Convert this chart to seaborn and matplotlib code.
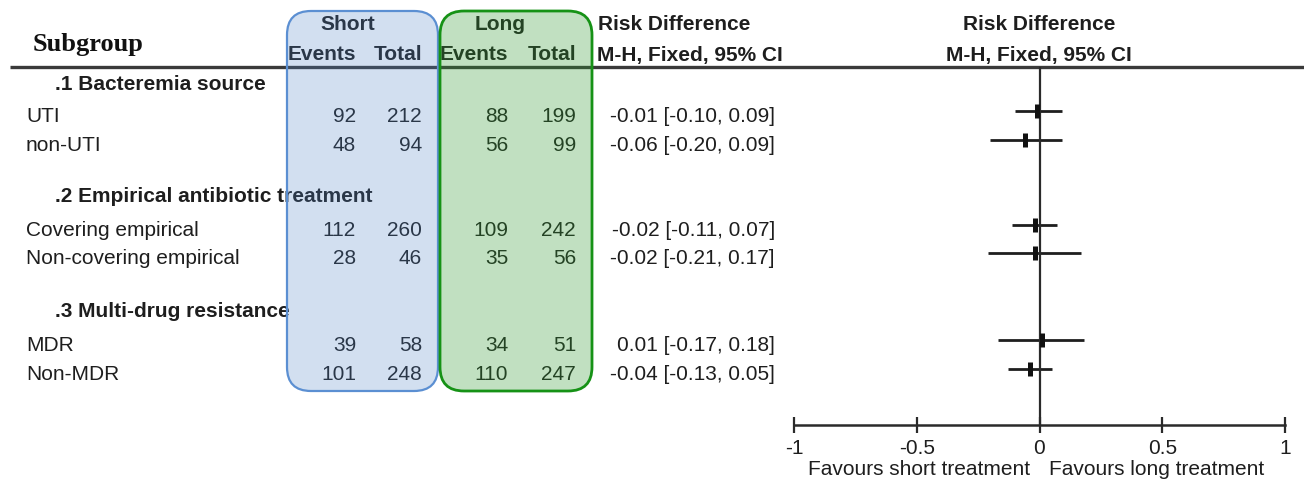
import matplotlib.pyplot as plt
import pandas as pd
import seaborn as sns
from matplotlib.patches import FancyBboxPatch

sns.set_theme(style="white")
plt.rcParams["font.family"] = ["Liberation Sans", "DejaVu Sans"]

# data
groups = [".1 Bacteremia source", ".2 Empirical antibiotic treatment", ".3 Multi-drug resistance"]
subgroups = ["UTI", "non-UTI", "Covering empirical", "Non-covering empirical", "MDR", "Non-MDR"]
short_events = [92, 48, 112, 28, 39, 101]
short_total = [212, 94, 260, 46, 58, 248]
long_events = [88, 56, 109, 35, 34, 110]
long_total = [199, 99, 242, 56, 51, 247]
rd = [-0.01, -0.06, -0.02, -0.02, 0.01, -0.04]
ci_low = [-0.10, -0.20, -0.11, -0.21, -0.17, -0.13]
ci_high = [0.09, 0.09, 0.07, 0.17, 0.18, 0.05]
x_ticks = [-1, -0.5, 0, 0.5, 1]
x_ticklabels = ["-1", "-0.5", "0", "0.5", "1"]

# layout in pixels (figure is 1304 x 485)
W, H = 1304, 485
head_y = [84, 197, 312]
row_y = [117, 146, 231, 259, 346, 375]
FS = 15
TXT = "#1e1e1e"

fig = plt.figure(figsize=(W / 100, H / 100), dpi=100)

# table part, drawn in pixel coordinates
tab = fig.add_axes([0, 0, 1, 1])
tab.set_xlim(0, W)
tab.set_ylim(H, 0)
tab.axis("off")

tab.text(33, 45, "Subgroup", family="Liberation Serif", fontweight="bold",
         fontsize=19, va="center", ha="left", color="#111")
tab.text(348, 25, "Short", fontsize=FS, fontweight="bold", ha="center", va="center", color=TXT)
tab.text(500, 25, "Long", fontsize=FS, fontweight="bold", ha="center", va="center", color=TXT)
for xr, lab in [(356, "Events"), (422, "Total"), (508, "Events"), (576, "Total")]:
    tab.text(xr, 55, lab, fontsize=FS, fontweight="bold", ha="right", va="center", color=TXT)
tab.text(598, 25, "Risk Difference", fontsize=FS, fontweight="bold", ha="left", va="center", color=TXT)
tab.text(597, 55, "M-H, Fixed, 95% CI", fontsize=FS, fontweight="bold", ha="left", va="center", color=TXT)
tab.text(1039, 25, "Risk Difference", fontsize=FS, fontweight="bold", ha="center", va="center", color=TXT)
tab.text(1039, 55, "M-H, Fixed, 95% CI", fontsize=FS, fontweight="bold", ha="center", va="center", color=TXT)

tab.plot([10, W], [68, 68], color="#3a3a3a", lw=2.4, zorder=1, solid_capstyle="butt")

for g, y in zip(groups, head_y):
    tab.text(55, y, g, fontsize=FS, fontweight="bold", ha="left", va="center", color=TXT)

for i, y in enumerate(row_y):
    tab.text(26, y, subgroups[i], fontsize=FS, ha="left", va="center", color=TXT)
    tab.text(356, y, str(short_events[i]), fontsize=FS, ha="right", va="center", color=TXT)
    tab.text(422, y, str(short_total[i]), fontsize=FS, ha="right", va="center", color=TXT)
    tab.text(508, y, str(long_events[i]), fontsize=FS, ha="right", va="center", color=TXT)
    tab.text(576, y, str(long_total[i]), fontsize=FS, ha="right", va="center", color=TXT)
    ci_txt = f"{rd[i]:.2f} [{ci_low[i]:.2f}, {ci_high[i]:.2f}]"
    tab.text(775, y, ci_txt, fontsize=FS, ha="right", va="center", color=TXT)

tab.text(1030, 470, "Favours short treatment", fontsize=FS, ha="right", va="center", color=TXT)
tab.text(1049, 470, "Favours long treatment", fontsize=FS, ha="left", va="center", color=TXT)

# translucent rounded boxes over the Short / Long columns
for x0, x1, fc, ec, lw in [(287, 438, (0.31, 0.51, 0.78, 0.25), "#5b8fd2", 1.6),
                           (440, 592, (0.2, 0.6, 0.2, 0.3), "#169216", 2.0)]:
    box = FancyBboxPatch((x0, 12), x1 - x0, 380,
                         boxstyle="round,pad=0,rounding_size=24",
                         facecolor=fc, edgecolor=ec, lw=lw, zorder=3)
    tab.add_patch(box)

# forest plot
top, bottom = 68, 426
ax = fig.add_axes([794 / W, (H - bottom) / H, 491 / W, (bottom - top) / H])
ax.set_facecolor("none")

df = pd.DataFrame({
    "rd": rd,
    "lo": ci_low,
    "hi": ci_high,
    "y": [y - 5 for y in row_y],
})
ax.hlines(df["y"], df["lo"], df["hi"], color="#1e1e1e", lw=2)
sns.scatterplot(data=df, x="rd", y="y", marker="|", s=115, linewidth=3.6,
                color="#111", ax=ax, legend=False, zorder=3)
ax.axvline(0, color="#2a2a2a", lw=1.6)

ax.set_xlim(-1, 1)
ax.set_ylim(bottom, top)
ax.set_xticks(x_ticks)
ax.set_xticklabels(x_ticklabels)
ax.set_yticks([])
ax.set_xlabel("")
ax.set_ylabel("")
for s in ["top", "left", "right"]:
    ax.spines[s].set_visible(False)
ax.spines["bottom"].set_linewidth(1.8)
ax.spines["bottom"].set_color("#2a2a2a")
ax.tick_params(axis="x", bottom=True, direction="inout", length=11, width=1.6,
               color="#2a2a2a", pad=4, labelsize=FS, labelcolor=TXT)

fig.savefig("out.png", dpi=100)
